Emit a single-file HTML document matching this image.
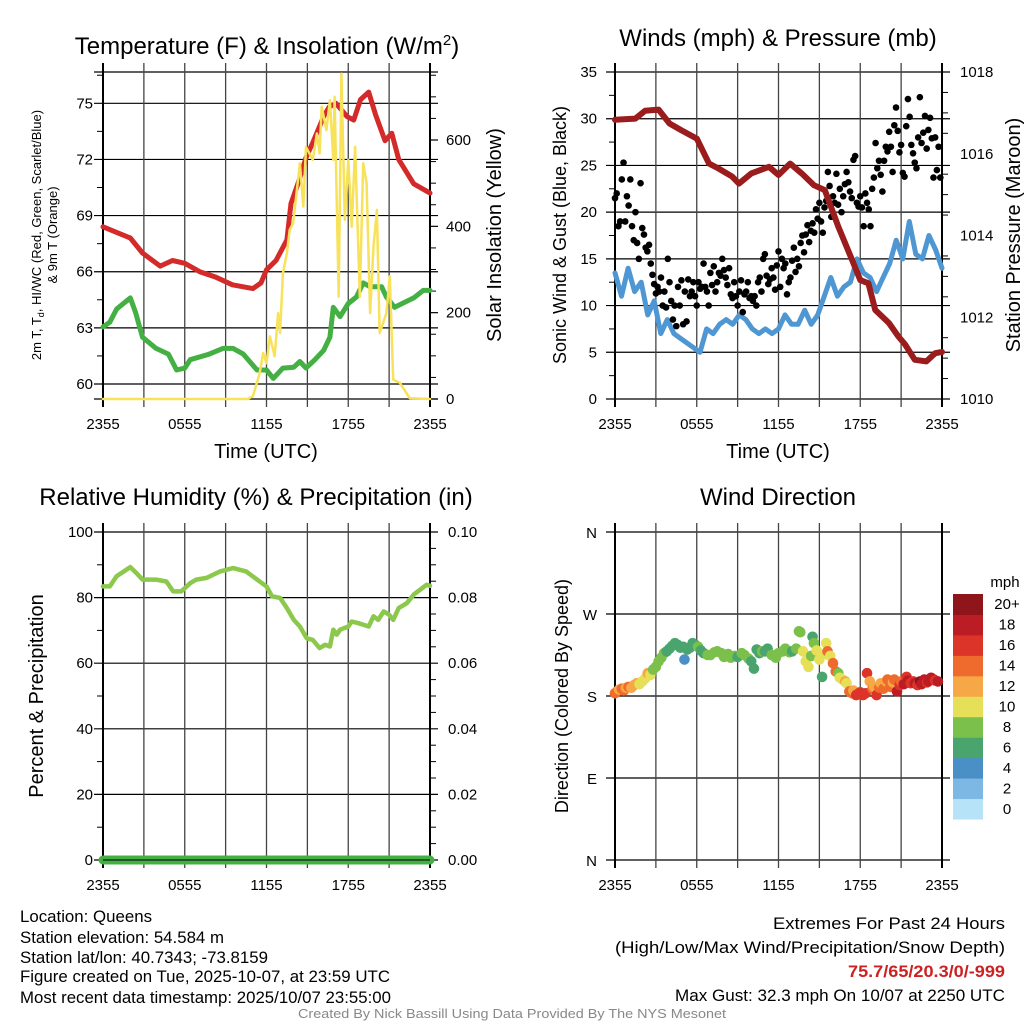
<!DOCTYPE html>
<html><head><meta charset="utf-8"><style>
html,body{margin:0;padding:0;background:#fff}
svg{display:block;font-family:"Liberation Sans",sans-serif}
</style></head><body>
<svg id="fig" width="1024" height="1024" viewBox="0 0 1024 1024" xmlns="http://www.w3.org/2000/svg">
<rect width="1024" height="1024" fill="#fff"/>
<g id="layer"></g>
<g font-size="16.5" fill="#000">
<text x="20" y="922" textLength="132" lengthAdjust="spacingAndGlyphs">Location: Queens</text>
<text x="20" y="943" textLength="204" lengthAdjust="spacingAndGlyphs">Station elevation: 54.584 m</text>
<text x="20" y="963" textLength="248" lengthAdjust="spacingAndGlyphs">Station lat/lon: 40.7343; -73.8159</text>
<text x="20" y="982" textLength="370" lengthAdjust="spacingAndGlyphs">Figure created on Tue, 2025-10-07, at 23:59 UTC</text>
<text x="20" y="1003" textLength="371" lengthAdjust="spacingAndGlyphs">Most recent data timestamp: 2025/10/07 23:55:00</text>
</g>
<g font-size="16.5" text-anchor="end">
<text x="1005" y="929" textLength="232" lengthAdjust="spacingAndGlyphs">Extremes For Past 24 Hours</text>
<text x="1005" y="953" textLength="390" lengthAdjust="spacingAndGlyphs">(High/Low/Max Wind/Precipitation/Snow Depth)</text>
<text x="1005" y="977" textLength="157" lengthAdjust="spacingAndGlyphs" font-weight="bold" fill="#cc2222">75.7/65/20.3/0/-999</text>
<text x="1005" y="1001" textLength="330" lengthAdjust="spacingAndGlyphs">Max Gust: 32.3 mph On 10/07 at 2250 UTC</text>
</g>
<text x="512" y="1018" font-size="13" fill="#888" text-anchor="middle" textLength="428" lengthAdjust="spacingAndGlyphs">Created By Nick Bassill Using Data Provided By The NYS Mesonet</text>
</svg>
<script>
// ---------- data ----------
const timeTickHours=[0,6,12,18,24];
const timeTickLabels=["2355","0555","1155","1755","2355"];
const tempHours=[0,2,2.9,4.2,5.1,6,7.1,8.3,9.5,11,11.6,12,12.7,13.5,13.8,14.4,14.9,15.4,16.2,16.6,17.1,17.9,18.4,18.9,19.5,20,20.7,21.2,21.7,22.8,24];
const tempValues=[68.4,67.8,67.0,66.3,66.6,66.45,66.0,65.7,65.3,65.1,65.4,66.1,66.6,67.7,69.65,70.9,72.1,72.9,74.3,74.8,75.0,74.3,74.1,75.2,75.6,74.4,73.0,73.4,72.0,70.7,70.2];
const dewHours=[0,0.5,1,2,2.4,2.9,3.9,4.8,5.4,6,6.4,7.8,8.8,9.55,10.3,11.3,12,12.5,13.2,14,14.45,14.9,15.55,16.2,16.65,16.9,17.4,18,18.6,19.1,19.6,20.45,20.8,21.4,22.8,23.5,24];
const dewValues=[63.05,63.3,64.0,64.6,63.8,62.5,61.9,61.6,60.75,60.85,61.3,61.6,61.9,61.9,61.6,60.75,60.75,60.3,60.85,60.9,61.2,60.85,61.3,61.8,62.5,64.1,63.6,64.3,64.65,65.4,65.2,65.2,64.65,64.1,64.6,65.0,65.0];
const solarHours=[0,10.6,11,11.5,11.75,12,12.25,12.6,12.85,13,13.2,13.5,13.7,13.95,14.2,14.45,14.7,14.9,15.4,15.7,15.9,16.05,16.4,16.65,16.9,17,17.3,17.5,17.75,18,18.25,18.5,18.85,19.1,19.35,19.6,19.85,20.1,20.3,20.8,21.05,21.3,21.8,22.5,24];
const solarValues=[0,0,6,60,106,83,145,99,199,153,291,338,392,407,476,546,446,584,554,615,569,677,623,692,554,700,237,754,415,554,399,584,237,546,500,199,353,438,153,199,284,45,37,2,0];
const tempTicks=[60,63,66,69,72,75];
const solarTicks=[0,200,400,600];

const pressHours=[0,1.5,2.2,3.2,4,4.9,6,6.9,7.6,8.6,9.1,10,11.3,12,12.85,13.7,14.6,15.4,16.4,17.4,18,18.6,19.1,20.1,20.8,21.3,22,22.85,23.5,24];
const pressValues=[1016.83,1016.86,1017.05,1017.08,1016.74,1016.57,1016.37,1015.76,1015.64,1015.44,1015.27,1015.52,1015.68,1015.48,1015.76,1015.52,1015.23,1015.11,1014.21,1013.4,1012.91,1012.83,1012.18,1011.86,1011.53,1011.33,1010.96,1010.92,1011.12,1011.15];
const windValues=[13.5,11,14,11.5,12.5,9,10.5,7,8.5,7,6.5,6,5.5,5,7.5,7,8,8.5,8,9,8.5,7.5,7,7.5,7,7.5,9,8,8,9.5,8,9,11,13,11,12,12.5,15,13.5,13,11.5,13,14.5,17,15,19,15.5,15,17.5,16,14];
const gustValues=[
21.5,22,18.5,19, 23.5,25.3,19,21.7, 20.7,23.5,18.5,17, 20,16.7,15,23.1, 18.3,17.6,16.2,15.8, 16.5,14.5,13.3,12.3,
11.3,12,11.5,13, 10,11.5,9.8,15, 12.5,10.5,8.5,10, 7.8,12,10,12.7, 8,11.5,8.3,12.8, 11,11.5,12.5,11,
10,12.5,11.8,12, 14.5,12,11.5,10, 13.5,12.2,14.2,11.5, 12.5,13.5,13.2,15, 13.8,13,12.2,14, 11.2,10.8,12.5,11,
10,11.5,12.7,9.3, 11.2,11.5,12.5,10.8, 11,10.5,11,10, 12.5,13,11.5,15, 15.5,13.2,12.3,12.8, 14,13,11.7,14.3,
15.8,12,15,14, 14.5,11.2,12.5,13, 14.8,16.2,13.6,15, 14.2,16.7,17.5,15.7, 17.6,18.6,16.8,18, 18.8,17.8,20.3,19.3,
21,19,17.8,20.5, 21.2,24.3,22.8,19.5, 21.7,21,24.1,20.8, 22.5,20,21.7,23, 24.3,23.2,22.2,21.5, 25.6,26,21,20.6,
21.7,20.5,18.5,22, 21,20.3,18.5,22.5, 23.7,27.4,24.7,25.5, 24,22.2,25.5,27, 26.5,28.6,27,24.3, 29.3,31.2,28.7,26.4,
27.2,24.2,23.8,29.2, 32.1,30.2,27.2,26.3, 25.3,24.7,28,32.3, 27.4,28.5,30.3,26.8, 28.8,30.1,27.9,23.7, 28,24.5,27,23.7];
const windTicks=[0,5,10,15,20,25,30,35];
const pressTicks=[1010,1012,1014,1016,1018];

const rhHours=[0,0.5,1,2,2.45,2.9,3.9,4.65,5.15,5.75,6.4,6.85,7.6,8.6,9.55,10.5,11.5,12,12.4,13,13.5,14,14.45,14.95,15.4,15.9,16.3,16.65,16.9,17.15,17.4,18,18.25,18.75,19.5,19.85,20.2,20.6,21,21.3,21.7,22.3,22.8,23.75,24];
const rhValues=[83.4,83.4,86.5,89.3,87.5,85.5,85.5,84.9,81.9,81.9,84.4,85.5,86,88,89,88,84.9,83.4,80.4,79.9,76.8,73.2,71.2,67.6,67.1,64.6,65.6,65.1,70.2,68.7,70.2,71.2,72.7,72.2,71.2,74.3,73.2,75.8,74.8,73.2,76.8,78.3,80.9,83.9,83.6];
const precipHours=[0,24];
const precipValues=[0,0];
const rhTicks=[0,20,40,60,80,100];
const precipTickLabels=["0.00","0.02","0.04","0.06","0.08","0.10"];

const dirHours=[0,0.15,0.3,0.5,0.65,0.8,1,1.2,1.4,1.6,1.8,2,2.2,2.4,2.6,2.8,3,3.2,3.4,3.6,3.8,4,4.2,4.4,4.6,4.8,5,5.1,5.3,5.5,5.7,5.9,6.1,6.3,6.5,6.8,7,7.3,7.5,7.8,8,8.3,8.5,8.8,9,9.3,9.5,9.8,10,10.2,10.4,10.6,10.8,11,11.2,11.5,11.8,12,12.3,12.5,12.8,13,13.3,13.5,13.6,13.8,14,14.2,14.4,14.5,14.6,14.8,15,15.2,15.4,15.5,15.6,15.8,16,16.2,16.4,16.5,16.7,16.9,17,17.2,17.4,17.5,17.7,17.9,18,18.2,18.4,18.5,18.7,18.9,19,19.2,19.4,19.5,19.7,19.9,20,20.2,20.4,20.5,20.7,20.9,21,21.2,21.4,21.5,21.7,21.9,22,22.2,22.4,22.5,22.7,22.9,23,23.2,23.4,23.5,23.7,23.9,24];
const dirValues=[183,185,187,188,186,189,190,189,192,194,193,196,199,205,203,209,212,218,222,227,229,232,235,238,236,233,234,220,231,233,238,236,234,230,227,225,225,228,229,227,223,226,222,224,223,227,225,221,218,210,231,227,229,229,232,225,222,227,229,232,228,229,232,251,250,229,218,212,224,245,238,230,220,201,226,238,229,224,216,207,205,200,198,196,194,185,183,186,181,183,184,181,183,205,196,188,190,181,189,194,188,196,198,190,195,198,185,192,196,193,201,197,194,196,194,192,196,193,198,195,196,200,198,197,196];
const dirSpeeds=[14,14,13,14,14,12,14,12,12,12,10,10,10,12,10,8,8,8,8,8,6,6,6,6,6,6,6,4,6,6,6,6,8,6,6,8,8,8,8,8,8,8,8,8,6,8,8,8,6,6,6,6,8,6,6,8,8,8,8,8,8,6,8,8,8,10,10,10,8,6,8,10,10,6,10,10,14,10,14,14,8,10,10,12,10,14,14,12,16,16,16,16,16,16,12,14,12,16,14,12,14,12,14,14,12,14,18,16,14,18,16,18,16,16,18,16,20,18,18,16,18,18,18,16,18,16,14];
const speedBins=["0","2","4","6","8","10","12","14","16","18","20+"];
const speedColors=["#b6e3f7","#7cb8e3","#4b8fc7","#4aa46e","#7bc04b","#e5e058","#f6a746","#ef6b2d","#dd3429","#bc1c24","#8e151a"];
const dirTicks=[0,90,180,270,360];
const dirTickLabels=["N","E","S","W","N"];

// ---------- helpers ----------
const NS="http://www.w3.org/2000/svg";
const layer=document.getElementById('layer');
function mk(tag,attrs,parent,text){
  const e=document.createElementNS(NS,tag);
  for(const k in attrs)e.setAttribute(k,attrs[k]);
  if(text!==undefined)e.textContent=text;
  (parent||layer).appendChild(e);return e;
}
function lin(v,d0,d1,r0,r1){return r0+(v-d0)*(r1-r0)/(d1-d0);}

function panel(P,name){
  const g=mk('g',{});
  
  
  return g;
}
function grid(g,P,hLines,withLabels){
  const gx=mk('g',{},g);
  
  
  for(const yy of hLines){
    const l=mk('line',{x1:P.x0-9,x2:P.x1+8,y1:yy,y2:yy,stroke:'#000','stroke-width':1.2},gx);
    
    
  }
  for(let h=0;h<=24;h+=3){
    const x=lin(h,0,24,P.x0,P.x1);
    const edge=(h===0||h===24);
    const l=mk('line',{x1:x,x2:x,y1:P.y0-9,y2:P.y1+8,stroke:edge?'#000':'#444','stroke-width':edge?2:1.3},gx);
    
    
  }
  if(withLabels){
    timeTickHours.forEach((h,i)=>{
      const t=mk('text',{x:lin(h,0,24,P.x0,P.x1),y:P.y1+30,'font-size':15,'text-anchor':'middle'},g,timeTickLabels[i]);
      
      
    });
  }
}
function minorTicks(g,x,ys,dir){
  for(const yy of ys){
    const l=mk('line',{x1:x,x2:x+dir*6,y1:yy,y2:yy,stroke:'#000','stroke-width':1},g);
    
    
  }
}
function path(g,xsArr,ysArr,attrs,name){
  let d='';xsArr.forEach((x,i)=>{d+=(i?'L':'M')+x.toFixed(1)+','+ysArr[i].toFixed(1);});
  const p=mk('path',Object.assign({d:d,fill:'none','stroke-linejoin':'round','stroke-linecap':'round'},attrs),g);
  
  
  return p;
}
function label(g,x,y,txt,size,anchor,name,rot){
  const a={x:x,y:y,'font-size':size,'text-anchor':anchor||'middle'};
  if(rot)a.transform='rotate(-90 '+x+' '+y+')';
  const t=mk('text',a,g,txt);
  
  
  return t;
}

// ---------- Panel 1: temperature ----------
(function(){
  const P={x0:103,x1:430,y0:72,y1:399};
  const g=panel(P,'temperature-panel');
  const ty=v=>lin(v,60,75,384,103.3);
  const sy=v=>lin(v,0,600,399,140);
  const tx=h=>lin(h,0,24,P.x0,P.x1);
  grid(g,P,[P.y0,P.y1].concat(tempTicks.map(ty)),true);
  minorTicks(g,P.x0,[61.5,64.5,67.5,70.5,73.5,76.5].map(ty),-1);
  minorTicks(g,P.x1,[50,100,150,250,300,350,450,500,550,650,700,750].map(sy),1);
  solarTicks.forEach(v=>{const l=mk('line',{x1:P.x1,x2:P.x1+8,y1:sy(v),y2:sy(v),stroke:'#000','stroke-width':1.2},g);
    });
  tempTicks.forEach(v=>label(g,93,ty(v)+5,String(v),15,'end','y-tick-label'));
  solarTicks.forEach(v=>label(g,446,sy(v)+5,String(v),15,'start','y2-tick-label'));
  path(g,dewHours.map(tx),dewValues.map(ty),{stroke:'#44b044','stroke-width':5},'dewpoint-line');
  path(g,tempHours.map(tx),tempValues.map(ty),{stroke:'#d42a2a','stroke-width':5},'temperature-line');
  path(g,solarHours.map(tx),solarValues.map(sy),{stroke:'#f7e25a','stroke-width':2.5},'insolation-line');
  const t=label(g,267,54,'Temperature (F) & Insolation (W/m',24,'middle','panel-title');
  const ts=mk('tspan',{dy:-9,'font-size':15},t,'2');
  const te=mk('tspan',{dy:9},t,')');
  label(g,266,458,'Time (UTC)',20,'middle','x-axis-title');
  const yl=label(g,41,235,'2m T, T',13,'middle','y-axis-title',true);
  const sb=mk('tspan',{'font-size':9,dy:3},yl,'d');
  const rest=mk('tspan',{dy:-3},yl,', HI/WC (Red, Green, Scarlet/Blue)');
  label(g,57,235,'& 9m T (Orange)',13,'middle','y-axis-title-line2',true);
  label(g,501,235,'Solar Insolation (Yellow)',20,'middle','y2-axis-title',true);
})();

// ---------- Panel 2: winds ----------
(function(){
  const P={x0:615,x1:942,y0:72,y1:399};
  const g=panel(P,'winds-panel');
  const wy=v=>lin(v,0,35,P.y1,P.y0);
  const py=v=>lin(v,1010,1018,P.y1,P.y0);
  const tx=h=>lin(h,0,24,P.x0,P.x1);
  grid(g,P,windTicks.map(wy),true);
  minorTicks(g,P.x0,[2.5,7.5,12.5,17.5,22.5,27.5,32.5].map(wy),-1);
  minorTicks(g,P.x1,[1010.5,1011,1011.5,1012.5,1013,1013.5,1014.5,1015,1015.5,1016.5,1017,1017.5].map(py),1);
  windTicks.forEach(v=>label(g,597,wy(v)+5,String(v),15,'end','y-tick-label'));
  pressTicks.forEach(v=>label(g,960,py(v)+5,String(v),15,'start','y2-tick-label'));
  path(g,windValues.map((v,i)=>tx(i*24/(windValues.length-1))),windValues.map(wy),{stroke:'#4f97d3','stroke-width':5},'sonic-wind-line');
  gustValues.forEach((v,i)=>{
    const c=mk('circle',{cx:tx(i*0.125),cy:wy(v),r:3.3,fill:'#000'},g);
    
    
  });
  path(g,pressHours.map(tx),pressValues.map(py),{stroke:'#9b1c1c','stroke-width':6},'pressure-line');
  label(g,778,46,'Winds (mph) & Pressure (mb)',24,'middle','panel-title');
  label(g,778,458,'Time (UTC)',20,'middle','x-axis-title');
  label(g,566,235,'Sonic Wind & Gust (Blue, Black)',18,'middle','y-axis-title',true);
  label(g,1020,235,'Station Pressure (Maroon)',20,'middle','y2-axis-title',true);
})();

// ---------- Panel 3: RH ----------
(function(){
  const P={x0:103,x1:430,y0:532,y1:860};
  const g=panel(P,'humidity-panel');
  const ry=v=>lin(v,0,100,P.y1,P.y0);
  const tx=h=>lin(h,0,24,P.x0,P.x1);
  grid(g,P,rhTicks.map(ry),true);
  minorTicks(g,P.x0,[10,30,50,70,90].map(ry),-1);
  minorTicks(g,P.x1,[5,10,15,25,30,35,45,50,55,65,70,75,85,90,95].map(ry),1);
  rhTicks.forEach((v,i)=>{label(g,93,ry(v)+5,String(v),15,'end','y-tick-label');label(g,448,ry(v)+5,precipTickLabels[i],15,'start','y2-tick-label');});
  path(g,rhHours.map(tx),rhValues.map(ry),{stroke:'#8cc84b','stroke-width':4.5},'rh-line');
  path(g,precipHours.map(tx),precipValues.map(v=>ry(v*1000)),{stroke:'#44b044','stroke-width':9},'precip-line');
  const l=mk('line',{x1:P.x0,x2:P.x1,y1:P.y1,y2:P.y1,stroke:'#000','stroke-width':1},g);
  
  label(g,256,505,'Relative Humidity (%) & Precipitation (in)',24,'middle','panel-title');
  label(g,43,696,'Percent & Precipitation',20,'middle','y-axis-title',true);
})();

// ---------- Panel 4: wind direction ----------
(function(){
  const P={x0:615,x1:942,y0:532,y1:860};
  const g=panel(P,'wind-direction-panel');
  const dy=v=>lin(v,0,360,P.y1,P.y0);
  const tx=h=>lin(h,0,24,P.x0,P.x1);
  grid(g,P,dirTicks.map(dy),true);
  dirTicks.forEach((v,i)=>label(g,597,dy(v)+6,dirTickLabels[i],15,'end','y-tick-label'));
  dirValues.forEach((v,i)=>{
    const bin=Math.min(10,Math.floor(dirSpeeds[i]/2));
    const c=mk('circle',{cx:tx(dirHours[i]),cy:dy(v),r:5.3,fill:speedColors[bin]},g);
    
    
  });
  label(g,778,505,'Wind Direction',24,'middle','panel-title');
  label(g,568,696,'Direction (Colored By Speed)',18,'middle','y-axis-title',true);
  const cb=mk('g',{},g);
  
  
  const bh=(819-594)/11;
  speedBins.forEach((lab,i)=>{
    const y=819-(i+1)*bh;
    const r=mk('rect',{x:953,y:y,width:30,height:bh+0.5,fill:speedColors[i]},cb);
    
    
    label(cb,1007,y+bh/2+5,lab,15,'middle','colorbar-label');
  });
  label(cb,1005,587,'mph',15,'middle','colorbar-title');
})();
</script>
</body></html>
